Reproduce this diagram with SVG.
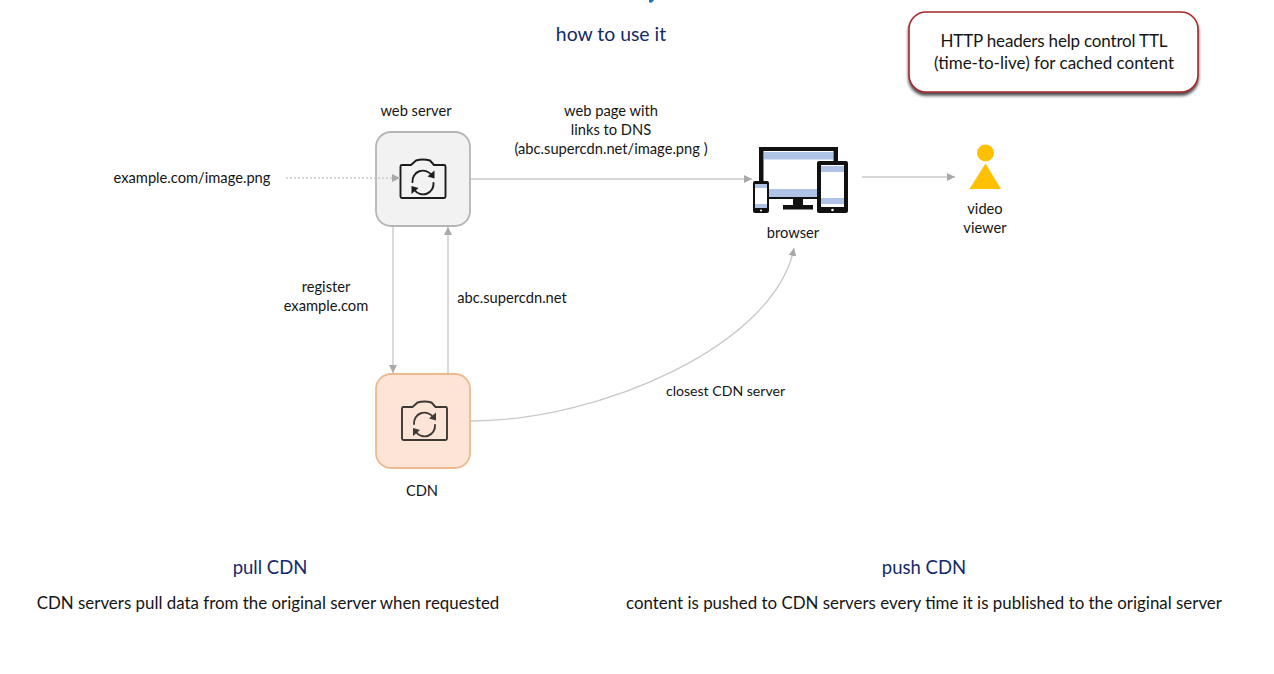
<svg xmlns="http://www.w3.org/2000/svg" width="1274" height="674" viewBox="0 0 1274 674">
<style>
text{font-family:"Lato","Open Sans","Liberation Sans",sans-serif;fill:#151515;text-anchor:middle;font-size:14.7px}
.h{font-size:18.500px;fill:#14296b}
.t{font-size:19.400px}
.b{font-size:16.900px}
.c{font-size:17px}
.s{font-size:14.100px}
.e{fill:none;stroke:#c9c9c9;stroke-width:1.4}
.ic{fill:none;stroke:#1c1c1c;stroke-width:1.900;stroke-linejoin:round;stroke-linecap:round}
.bl{fill:#aec3e6}
.k{fill:#111}
.w{fill:#fff}
</style>
<defs>
<marker id="a" markerWidth="9" markerHeight="8" refX="8" refY="4" orient="auto" markerUnits="userSpaceOnUse"><path d="M0 0L8 4L0 8Z" fill="#a9a9a9"/></marker>
<g id="cam">
<path class="ic" d="M-21-16H-12L-7-20.500Q0-22.500 7-20.500L11-16H21Q22.500-16 22.500-14.500V15.500Q22.500 17 21 17H-21Q-22.500 17-22.500 15.500V-14.500Q-22.500-16-21-16Z"/>
<path class="ic" d="M-10.500 1A10.500 10.500 0 0 1 8.500-6M10.500 2A10.500 10.500 0 0 1-8.500 9"/>
<path d="M11.500-10.500L11.500-2.500L4.500-4.500Z M-11.500 13L-11.500 5L-4.500 7Z" fill="#1c1c1c"/>
</g>
<filter id="sh" x="-5%" y="-10%" width="110%" height="130%"><feDropShadow dx="0" dy="3" stdDeviation="1.500" flood-color="#222" flood-opacity=".8"/></filter>
</defs>
<path d="M649 0H654L652 2.500H649Z" fill="#1f6fb5"/>
<g id="title"><text class="h t" x="611" y="41">how to use it</text></g>
<g id="note">
<rect x="909" y="12" width="289" height="80" rx="17" fill="#fff" stroke="#a5282f" stroke-width="1.600" filter="url(#sh)"/>
<text class="c" x="1054" y="47" textLength="227">HTTP headers help control TTL</text>
<text class="c" x="1054" y="69">(time-to-live) for cached content</text>
</g>
<g id="source"><text x="192" y="183">example.com/image.png</text></g>
<g id="web-server">
<text x="416" y="116">web server</text>
<rect x="376" y="132" width="94" height="94" rx="15" fill="#f2f2f2" stroke="#b5b5b5" stroke-width="1.800"/>
<use href="#cam" x="423" y="181"/>
</g>
<g id="cdn">
<rect x="376" y="374" width="94" height="94" rx="15" fill="#fce5d6" stroke="#efb98f" stroke-width="1.800"/>
<use href="#cam" x="424.500" y="423" opacity=".85"/>
<text x="422" y="496">CDN</text>
</g>
<g id="browser">
<rect class="k" x="759" y="147" width="79" height="52"/>
<rect class="w" x="763.500" y="151" width="70" height="46"/>
<rect class="bl" x="764" y="152" width="69" height="7.500"/>
<rect class="bl" x="764" y="189" width="69" height="8"/>
<rect class="k" x="793" y="199" width="10" height="6"/>
<rect class="k" x="783" y="205" width="30" height="4.500"/>
<rect class="k" x="817" y="161" width="31" height="52" rx="2"/>
<rect class="w" x="821" y="165" width="23" height="42"/>
<rect class="bl" x="821" y="166" width="23" height="6"/>
<rect class="bl" x="821" y="198" width="23" height="6"/>
<circle class="w" cx="832.500" cy="210" r="1.300"/>
<rect class="k" x="753" y="181" width="16" height="32" rx="2"/>
<rect class="w" x="755" y="184" width="12" height="24"/>
<rect class="bl" x="755" y="184" width="12" height="4"/>
<rect class="bl" x="755" y="204" width="12" height="4"/>
<circle class="w" cx="761" cy="210.500" r="1"/>
<text x="793" y="238">browser</text>
</g>
<g id="video-viewer">
<circle cx="985.500" cy="153" r="8.500" fill="#ffc000"/>
<path d="M985.500 163.500L1001 189H969.500Z" fill="#ffc000"/>
<text x="985" y="214">video</text>
<text x="985" y="233">viewer</text>
</g>
<g id="labels">
<text x="611" y="116">web page with</text>
<text x="611" y="135">links to DNS</text>
<text x="611" y="154">(abc.supercdn.net/image.png )</text>
<text x="326" y="292">register</text>
<text x="326" y="311">example.com</text>
<text x="512" y="303">abc.supercdn.net</text>
<text class="s" x="725.500" y="396">closest CDN server</text>
</g>
<g id="pull-cdn">
<text class="h" x="270" y="574">pull CDN</text>
<text class="b" x="268" y="609">CDN servers pull data from the original server when requested</text>
</g>
<g id="push-cdn">
<text class="h" x="924" y="574">push CDN</text>
<text class="b" x="924" y="609">content is pushed to CDN servers every time it is published to the original server</text>
</g>
<g id="connectors">
<path class="e" stroke-dasharray="2 2" d="M286 178H400" marker-end="url(#a)"/>
<path class="e" d="M471 179H752" marker-end="url(#a)"/>
<path class="e" d="M862 177H955" marker-end="url(#a)"/>
<path class="e" d="M393 227V373" marker-end="url(#a)"/>
<path class="e" d="M448 373V227" marker-end="url(#a)"/>
<path class="e" d="M471 421C600 421 775 345 794 248" marker-end="url(#a)"/>
</g>
</svg>
